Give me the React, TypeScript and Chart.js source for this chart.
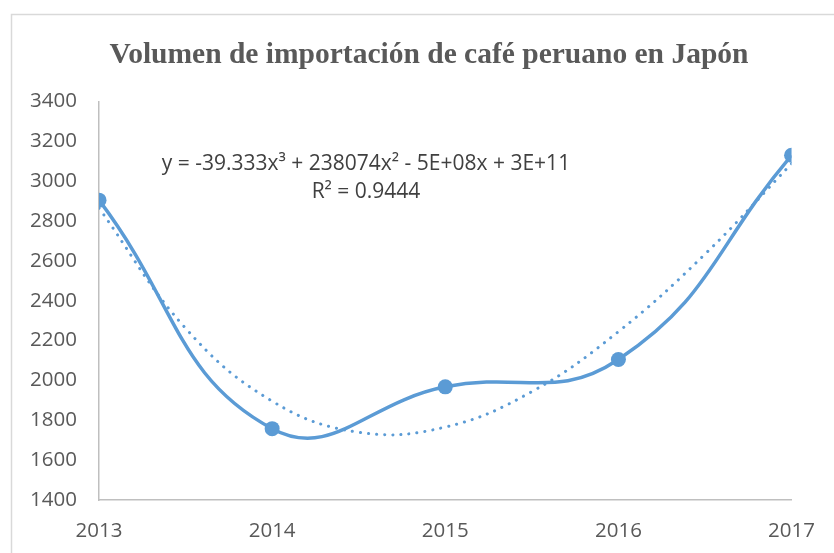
import React, { useEffect, useRef } from "react";
import { Chart, registerables } from "chart.js";

Chart.register(...registerables);

const years = [2013, 2014, 2015, 2016, 2017];
const imports = [2905, 1758, 1968, 2105, 3130];
const trendYears = [2013, 2013.5, 2014, 2014.5, 2015, 2015.5, 2016, 2016.5, 2017];
const trendValues = [2865, 2262, 1896, 1740, 1766, 1944, 2245, 2634, 3088];
const yTicks = [1400, 1600, 1800, 2000, 2200, 2400, 2600, 2800, 3000, 3200, 3400];
const titleText = "Volumen de importación de café peruano en Japón";
const equationText = "y = -39.333x³ + 238074x² - 5E+08x + 3E+11";
const r2Text = "R² = 0.9444";

const BLUE = "#5B9BD5";
const TEXT = "#595959";

export default function App() {
  const ref = useRef<HTMLCanvasElement | null>(null);

  useEffect(() => {
    if (!ref.current) return;
    const frame = {
      id: "frame",
      beforeDraw(chart: any) {
        const ctx = chart.ctx;
        ctx.save();
        ctx.fillStyle = "#ffffff";
        ctx.fillRect(0, 0, chart.width, chart.height);
        ctx.strokeStyle = "#D9D9D9";
        ctx.lineWidth = 1.5;
        ctx.strokeRect(11.5, 14.5, 900, 700);
        ctx.restore();
      },
      afterDraw(chart: any) {
        const ctx = chart.ctx;
        ctx.save();
        ctx.fillStyle = TEXT;
        ctx.textAlign = "center";
        ctx.textBaseline = "alphabetic";
        ctx.font = "bold 29.5px 'Liberation Serif'";
        ctx.fillText(titleText, 429, 62.5);
        ctx.fillStyle = "#404040";
        ctx.font = "21px 'Open Sans'";
        ctx.fillText(equationText, 366, 170);
        ctx.fillText(r2Text, 366, 198);
        ctx.restore();
      },
    };

    const chart = new Chart(ref.current, {
      type: "line",
      data: {
        datasets: [
          {
            label: "Volumen",
            data: years.map((x, i) => ({ x, y: imports[i] })),
            borderColor: BLUE,
            backgroundColor: BLUE,
            borderWidth: 3.5,
            pointRadius: 7.5,
            pointBorderWidth: 0,
            pointBackgroundColor: BLUE,
            tension: 0.45,
            order: 1,
          },
          {
            label: "Tendencia",
            data: trendYears.map((x, i) => ({ x, y: trendValues[i] })),
            borderColor: BLUE,
            borderWidth: 3,
            borderDash: [0.1, 8],
            borderCapStyle: "round",
            pointRadius: 0,
            tension: 0.4,
            order: 0,
          },
        ],
      },
      options: {
        responsive: false,
        animation: false,
        events: [],
        layout: { padding: { top: 101.5, right: 41, left: 0, bottom: 0 } },
        plugins: {
          legend: { display: false },
          title: { display: false },
          tooltip: { enabled: false },
        },
        scales: {
          x: {
            type: "linear",
            min: years[0],
            max: years[years.length - 1],
            grid: { display: false, drawTicks: false },
            border: { display: true, color: "#BFBFBF", width: 1.5 },
            ticks: {
              stepSize: 1,
              padding: 19,
              color: TEXT,
              font: { family: "'Open Sans'", size: 20.5 },
              callback: (v: any) => String(v),
            },
            afterFit: (s: any) => {
              s.height = 53;
            },
          },
          y: {
            type: "linear",
            min: yTicks[0],
            max: yTicks[yTicks.length - 1],
            grid: { display: false, drawTicks: false },
            border: { display: true, color: "#BFBFBF", width: 1.5 },
            ticks: {
              stepSize: 200,
              padding: 22,
              color: TEXT,
              font: { family: "'Open Sans'", size: 20.5 },
              callback: (v: any) => String(v),
            },
            afterFit: (s: any) => {
              s.width = 99;
            },
          },
        },
      },
      plugins: [frame],
    } as any);
    return () => chart.destroy();
  }, []);

  return (
    <div style={{ position: "fixed", left: 0, top: 0, width: 834, height: 553 }}>
      <canvas ref={ref} width={834} height={553} style={{ width: 834, height: 553 }} />
    </div>
  );
}
